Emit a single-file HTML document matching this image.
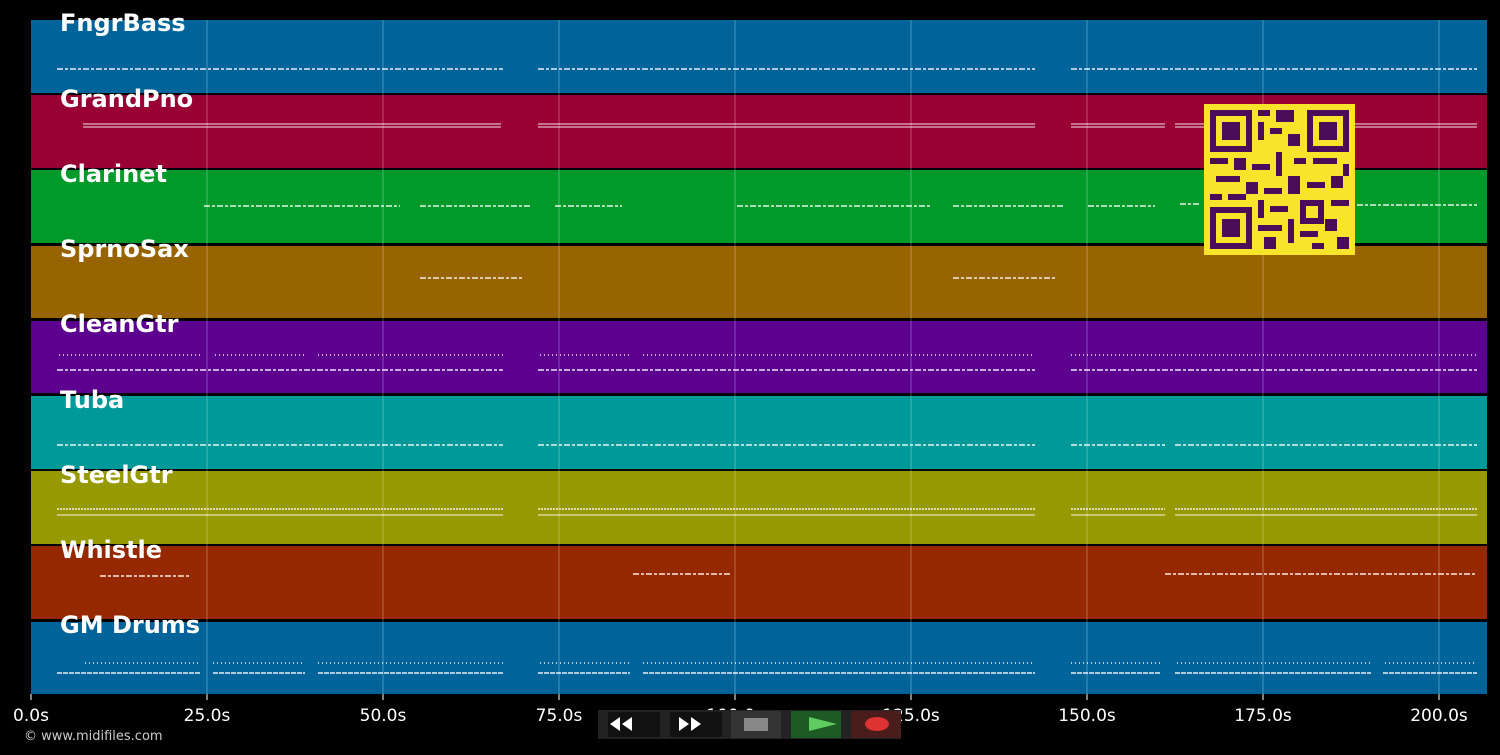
<!DOCTYPE html>
<html><head><meta charset="utf-8"><style>
html,body{margin:0;padding:0;background:#000;width:1500px;height:755px;overflow:hidden}
svg{display:block}
text{font-family:"DejaVu Sans","Liberation Sans",sans-serif}
</style></head><body>
<svg width="1500" height="755" viewBox="0 0 1500 755">
<rect width="1500" height="755" fill="#000"/>
<g>
<rect x="31" y="20" width="1456" height="73" fill="#00649a"/>
<rect x="31" y="95" width="1456" height="73" fill="#990033"/>
<rect x="31" y="170" width="1456" height="73" fill="#009a2a"/>
<rect x="31" y="246" width="1456" height="72" fill="#976400"/>
<rect x="31" y="321" width="1456" height="72" fill="#5d0090"/>
<rect x="31" y="396" width="1456" height="73" fill="#009999"/>
<rect x="31" y="471" width="1456" height="73" fill="#979900"/>
<rect x="31" y="546" width="1456" height="73" fill="#962800"/>
<rect x="31" y="622" width="1456" height="72" fill="#00649a"/>
</g>
<g stroke="#fff" stroke-opacity="0.3" stroke-width="1">
<line x1="207" y1="20" x2="207" y2="694"/><line x1="383" y1="20" x2="383" y2="694"/>
<line x1="559" y1="20" x2="559" y2="694"/><line x1="735" y1="20" x2="735" y2="694"/>
<line x1="911" y1="20" x2="911" y2="694"/><line x1="1087" y1="20" x2="1087" y2="694"/>
<line x1="1263" y1="20" x2="1263" y2="694"/><line x1="1439" y1="20" x2="1439" y2="694"/>
</g>
<g stroke="#fff" stroke-width="1.5" fill="none" stroke-dasharray="6 2 3 2" opacity="0.9">
<!-- FngrBass -->
<path d="M57 69H503M538 69H1035M1071 69H1477"/>
<!-- GrandPno -->
<path d="M83 124H501M538 124H1035M1071 124H1165M1175 124H1477" stroke-dasharray="none" stroke-width="1"/>
<path d="M83 127H501M538 127H1035M1071 127H1165M1175 127H1477" stroke-dasharray="none" stroke-width="1"/>
<!-- Clarinet -->
<path d="M204 206H400M420 206H530M555 206H622M737 206H930M953 206H1063M1088 206H1155M1180 204H1200M1357 205H1477"/>
<!-- SprnoSax -->
<path d="M420 278H522M953 278H1055"/>
<!-- CleanGtr -->
<path d="M59 355H200M215 355H305M318 355H503M540 355H630M643 355H1035M1071 355H1477" stroke-dasharray="1 3"/>
<path d="M57 370H503M538 370H1035M1071 370H1477"/>
<!-- Tuba -->
<path d="M57 445H503M538 445H1035M1071 445H1165M1175 445H1477"/>
<!-- SteelGtr -->
<path d="M57 509H503M538 509H1035M1071 509H1165M1175 509H1477" stroke-dasharray="2 1"/>
<path d="M57 515H503M538 515H1035M1071 515H1165M1175 515H1477" stroke-dasharray="none" stroke-width="1"/>
<!-- Whistle -->
<path d="M100 576H190M633 574H730M1165 574H1477"/>
<!-- Drums -->
<path d="M85 663H200M213 663H305M318 663H503M540 663H630M643 663H1035M1071 663H1160M1177 663H1371M1385 663H1477" stroke-dasharray="1 3"/>
<path d="M57 673H200M213 673H305M318 673H503M538 673H630M643 673H1035M1071 673H1160M1175 673H1371M1383 673H1477" stroke-dasharray="5 1"/>
</g>
<g fill="#fff" font-weight="bold" font-size="24">
<text x="60" y="31">FngrBass</text>
<text x="60" y="107">GrandPno</text>
<text x="60" y="182">Clarinet</text>
<text x="60" y="257">SprnoSax</text>
<text x="60" y="332">CleanGtr</text>
<text x="60" y="408">Tuba</text>
<text x="60" y="483">SteelGtr</text>
<text x="60" y="558">Whistle</text>
<text x="60" y="633">GM Drums</text>
</g>
<g stroke="#fff" stroke-width="1">
<line x1="31" y1="694" x2="31" y2="700"/><line x1="207" y1="694" x2="207" y2="700"/><line x1="383" y1="694" x2="383" y2="700"/><line x1="559" y1="694" x2="559" y2="700"/><line x1="735" y1="694" x2="735" y2="700"/><line x1="911" y1="694" x2="911" y2="700"/><line x1="1087" y1="694" x2="1087" y2="700"/><line x1="1263" y1="694" x2="1263" y2="700"/><line x1="1439" y1="694" x2="1439" y2="700"/>
</g>
<g fill="#fff" font-size="17" text-anchor="middle">
<text x="31" y="721">0.0s</text><text x="207" y="721">25.0s</text><text x="383" y="721">50.0s</text><text x="559" y="721">75.0s</text><text x="735" y="721">100.0s</text><text x="911" y="721">125.0s</text><text x="1087" y="721">150.0s</text><text x="1263" y="721">175.0s</text><text x="1439" y="721">200.0s</text>
</g>
<text x="24" y="740" fill="#ccc" font-size="13">© www.midifiles.com</text>
<!-- controls -->
<rect x="598" y="710" width="303" height="29" fill="#222"/>
<rect x="608" y="712" width="52" height="25" rx="2" fill="#111"/>
<rect x="670" y="712" width="52" height="25" rx="2" fill="#111"/>
<rect x="731" y="711" width="50" height="27" fill="#333"/>
<rect x="791" y="711" width="50" height="27" fill="#1e5a24"/>
<rect x="851" y="711" width="50" height="27" fill="#4a1c1c"/>
<path d="M610 724l10-7v14zM622 724l10-7v14z" fill="#fff"/>
<path d="M689 724l-10-7v14zM701 724l-10-7v14z" fill="#fff"/>
<rect x="744" y="718" width="24" height="13" fill="#888"/>
<path d="M809 717l28 7-28 7z" fill="#5fcc5f"/>
<ellipse cx="877" cy="724" rx="12" ry="7" fill="#d33"/>
<!-- QR -->
<rect x="1204" y="104" width="151" height="151" fill="#f7e52b"/>
<g fill="#4b0c5a">
<rect x="1210" y="110" width="42" height="42"/><rect x="1216" y="116" width="30" height="30" fill="#f7e52b"/><rect x="1222" y="122" width="18" height="18"/>
<rect x="1307" y="110" width="42" height="42"/><rect x="1313" y="116" width="30" height="30" fill="#f7e52b"/><rect x="1319" y="122" width="18" height="18"/>
<rect x="1210" y="207" width="42" height="42"/><rect x="1216" y="213" width="30" height="30" fill="#f7e52b"/><rect x="1222" y="219" width="18" height="18"/>
<rect x="1258" y="110" width="12" height="6"/><rect x="1276" y="110" width="18" height="12"/><rect x="1258" y="122" width="6" height="18"/><rect x="1270" y="128" width="12" height="6"/><rect x="1288" y="134" width="12" height="12"/>
<rect x="1210" y="158" width="18" height="6"/><rect x="1234" y="158" width="12" height="12"/><rect x="1252" y="164" width="18" height="6"/><rect x="1276" y="152" width="6" height="24"/><rect x="1294" y="158" width="12" height="6"/><rect x="1313" y="158" width="24" height="6"/><rect x="1343" y="164" width="6" height="12"/>
<rect x="1216" y="176" width="24" height="6"/><rect x="1246" y="182" width="12" height="12"/><rect x="1264" y="188" width="18" height="6"/><rect x="1288" y="176" width="12" height="18"/><rect x="1307" y="182" width="18" height="6"/><rect x="1331" y="176" width="12" height="12"/>
<rect x="1210" y="194" width="12" height="6"/><rect x="1228" y="194" width="18" height="6"/><rect x="1258" y="200" width="6" height="18"/><rect x="1270" y="206" width="18" height="6"/><rect x="1300" y="200" width="24" height="24"/><rect x="1306" y="206" width="12" height="12" fill="#f7e52b"/><rect x="1331" y="200" width="18" height="6"/>
<rect x="1258" y="225" width="24" height="6"/><rect x="1288" y="219" width="6" height="24"/><rect x="1264" y="237" width="12" height="12"/><rect x="1300" y="231" width="18" height="6"/><rect x="1325" y="219" width="12" height="12"/><rect x="1337" y="237" width="12" height="12"/><rect x="1312" y="243" width="12" height="6"/>
</g>
</svg>
</body></html>
